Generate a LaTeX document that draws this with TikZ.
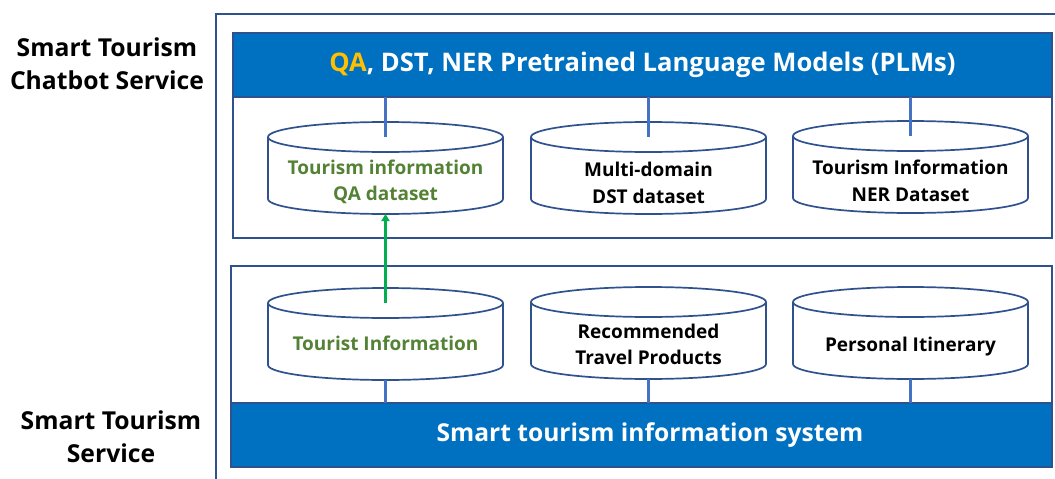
\documentclass[tikz,border=0pt]{standalone}
\usepackage{fontspec}
\setmainfont{Open Sans}
\usetikzlibrary{arrows.meta,calc}
\definecolor{hdrblue}{HTML}{0070C0}
\definecolor{bordblue}{HTML}{2F528F}
\definecolor{linkblue}{HTML}{4472C4}
\definecolor{txtgreen}{HTML}{548235}
\definecolor{arrgreen}{HTML}{00B050}
\definecolor{gold}{HTML}{FFC000}
\newcommand\cylout[1]{%
  \fill[white] (#1.north west) -- (#1.south west)
    arc[start angle=180,end angle=360,x radius=117.5pt,y radius=15pt]
    -- (#1.north east)
    arc[start angle=0,end angle=180,x radius=117.5pt,y radius=15pt] -- cycle;
  \draw[cylline] (#1.north west) -- (#1.south west)
    arc[start angle=180,end angle=360,x radius=117.5pt,y radius=15pt]
    -- (#1.north east);
  \draw[cylline] (#1.north) ellipse[x radius=117.5pt,y radius=15pt];
}
\begin{document}
\begin{tikzpicture}[x=1pt,y=-1pt,
  panel/.style={draw=bordblue,line width=1.8pt,fill=white,inner sep=0,outer sep=0},
  bar/.style={fill=hdrblue,draw=bordblue,line width=1.2pt,inner sep=0,outer sep=0,text=white},
  cylbody/.style={minimum width=235pt,minimum height=62pt,inner sep=0,outer sep=0},
  cylline/.style={draw=bordblue,line width=1.7pt},
  cyltext/.style={font=\bfseries\fontsize{19}{26.5}\selectfont,align=center,inner sep=0},
  sidelbl/.style={font=\bfseries\fontsize{24.7}{33}\selectfont,align=center,inner sep=0},
  link/.style={draw=linkblue,line width=2.2pt},
  garrow/.style={draw=arrgreen,line width=2.4pt,-{Triangle[width=8pt,length=7pt]}}
]
\useasboundingbox (0,0) rectangle (1055,479);
\clip (0,0) rectangle (1055,479);
% outer frame
\coordinate (fbl) at (216,490);
\coordinate (ftl) at (216,14);
\coordinate (ftr) at (1070,14);
\draw[draw=bordblue,line width=2pt] (fbl) -- (ftl) -- (ftr);
% side labels
\node[sidelbl] (chatlbl) at (107,64) {Smart Tourism\\Chatbot Service};
\node[sidelbl] (svclbl) at (111,437) {Smart Tourism\\Service};
% top panel
\node[panel,minimum width=819pt,minimum height=205pt] (toppanel) at (642.5,135.5) {};
\node[bar,minimum width=819pt,minimum height=64pt,font=\bfseries\fontsize{25.6}{30}\selectfont] (plm) at (642.5,65) {\textcolor{gold}{QA}, DST, NER Pretrained Language Models (PLMs)};
% bottom panel
\node[panel,minimum width=821pt,minimum height=201pt] (botpanel) at (641.5,366.5) {};
\node[bar,minimum width=821pt,minimum height=64pt] (tis) at (641.5,435) {};
\node[text=white,inner sep=0,font=\bfseries\fontsize{24.6}{30}\selectfont] (tislbl) at (650,435) {Smart tourism information system};
% top cylinders
\node[cylbody] (qa) at (385.5,168) {};
\node[cylbody] (dst) at (648.5,168) {};
\node[cylbody] (ner) at (910.5,167) {};
\cylout{qa}\cylout{dst}\cylout{ner}
\node[cyltext,text=txtgreen] (qat) at ([yshift=-14pt]qa.center) {Tourism information\\QA dataset};
\node[cyltext] (dstt) at ([yshift=-15pt]dst.center) {Multi-domain\\DST dataset};
\node[cyltext] (nert) at ([yshift=-14pt]ner.center) {Tourism Information\\NER Dataset};
% bottom cylinders
\node[cylbody] (ti) at (385.5,334) {};
\node[cylbody] (rtp) at (648.5,333) {};
\node[cylbody] (pi) at (910.5,333) {};
\cylout{ti}\cylout{rtp}\cylout{pi}
\node[cyltext,text=txtgreen] (tit) at ([yshift=-9pt]ti.center) {Tourist Information};
\node[cyltext] (rtpt) at ([yshift=-11.5pt]rtp.center) {Recommended\\Travel Products};
\node[cyltext] (pit) at ([yshift=-14pt]pi.center) {Personal Itinerary};
% connectors top
\draw[link] (qa.north |- plm.south) -- (qa.north);
\draw[link] (dst.north |- plm.south) -- (dst.north);
\draw[link] (ner.north |- plm.south) -- (ner.north);
% connectors bottom
\draw[link] ([yshift=-15pt]ti.south) -- (ti.south |- tis.north);
\draw[link] ([yshift=-15pt]rtp.south) -- (rtp.south |- tis.north);
\draw[link] ([yshift=-15pt]pi.south) -- (pi.south |- tis.north);
% green arrow
\draw[garrow] (ti.north) -- ([yshift=-15pt]qa.south);
\end{tikzpicture}
\end{document}
